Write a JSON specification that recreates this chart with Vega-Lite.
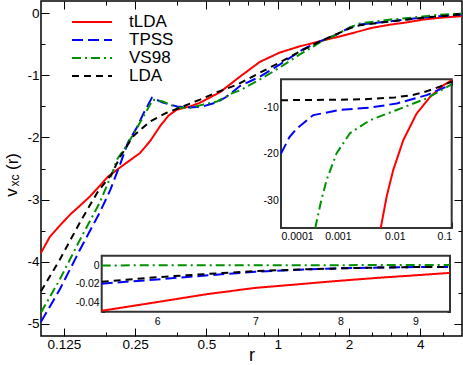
{
  "$schema": "https://vega.github.io/schema/vega-lite/v6.json",
  "width": 421,
  "height": 335,
  "autosize": {"type": "none"},
  "padding": {"left": 41, "top": 1, "right": 1, "bottom": 29},
  "config": {
    "view": {"stroke": "black", "strokeWidth": 1.5},
    "font": "Liberation Sans",
    "axis": {"domain": false, "grid": false, "zindex": 1, "tickColor": "black", "labelColor": "black", "titleColor": "black", "labelFont": "Liberation Sans", "titleFont": "Liberation Sans", "titleFontWeight": "normal", "tickWidth": 1}
  },
  "datasets": {
    "main": [
      {"m": "tLDA", "r": 0.1, "v": -3.86}, {"m": "tLDA", "r": 0.109, "v": -3.6}, {"m": "tLDA", "r": 0.12, "v": -3.42}, {"m": "tLDA", "r": 0.133, "v": -3.24}, {"m": "tLDA", "r": 0.146, "v": -3.1}, {"m": "tLDA", "r": 0.161, "v": -2.95}, {"m": "tLDA", "r": 0.175, "v": -2.8}, {"m": "tLDA", "r": 0.192, "v": -2.63}, {"m": "tLDA", "r": 0.22, "v": -2.46}, {"m": "tLDA", "r": 0.262, "v": -2.25}, {"m": "tLDA", "r": 0.29, "v": -2.05}, {"m": "tLDA", "r": 0.318, "v": -1.82}, {"m": "tLDA", "r": 0.345, "v": -1.65}, {"m": "tLDA", "r": 0.375, "v": -1.55}, {"m": "tLDA", "r": 0.426, "v": -1.5}, {"m": "tLDA", "r": 0.469, "v": -1.44}, {"m": "tLDA", "r": 0.57, "v": -1.27}, {"m": "tLDA", "r": 0.692, "v": -1.02}, {"m": "tLDA", "r": 0.841, "v": -0.78}, {"m": "tLDA", "r": 1.021, "v": -0.63}, {"m": "tLDA", "r": 1.24, "v": -0.53}, {"m": "tLDA", "r": 1.506, "v": -0.45}, {"m": "tLDA", "r": 1.83, "v": -0.37}, {"m": "tLDA", "r": 2.2, "v": -0.29}, {"m": "tLDA", "r": 2.52, "v": -0.23}, {"m": "tLDA", "r": 3.0, "v": -0.18}, {"m": "tLDA", "r": 3.5, "v": -0.145}, {"m": "tLDA", "r": 4.1, "v": -0.1}, {"m": "tLDA", "r": 4.84, "v": -0.07}, {"m": "tLDA", "r": 6.0, "v": -0.045},
      {"m": "TPSS", "r": 0.1, "v": -4.97}, {"m": "TPSS", "r": 0.12, "v": -4.45}, {"m": "TPSS", "r": 0.146, "v": -3.81}, {"m": "TPSS", "r": 0.177, "v": -3.21}, {"m": "TPSS", "r": 0.196, "v": -2.85}, {"m": "TPSS", "r": 0.216, "v": -2.43}, {"m": "TPSS", "r": 0.233, "v": -2.08}, {"m": "TPSS", "r": 0.254, "v": -1.84}, {"m": "TPSS", "r": 0.272, "v": -1.6}, {"m": "TPSS", "r": 0.294, "v": -1.36}, {"m": "TPSS", "r": 0.327, "v": -1.435}, {"m": "TPSS", "r": 0.375, "v": -1.5}, {"m": "TPSS", "r": 0.426, "v": -1.516}, {"m": "TPSS", "r": 0.483, "v": -1.5}, {"m": "TPSS", "r": 0.554, "v": -1.43}, {"m": "TPSS", "r": 0.61, "v": -1.34}, {"m": "TPSS", "r": 0.692, "v": -1.17}, {"m": "TPSS", "r": 0.841, "v": -1.02}, {"m": "TPSS", "r": 1.021, "v": -0.823}, {"m": "TPSS", "r": 1.277, "v": -0.58}, {"m": "TPSS", "r": 1.506, "v": -0.452}, {"m": "TPSS", "r": 1.777, "v": -0.339}, {"m": "TPSS", "r": 2.017, "v": -0.226}, {"m": "TPSS", "r": 2.222, "v": -0.177}, {"m": "TPSS", "r": 2.975, "v": -0.129}, {"m": "TPSS", "r": 4.101, "v": -0.065}, {"m": "TPSS", "r": 6.0, "v": -0.018},
      {"m": "VS98", "r": 0.1, "v": -4.82}, {"m": "VS98", "r": 0.12, "v": -4.29}, {"m": "VS98", "r": 0.146, "v": -3.65}, {"m": "VS98", "r": 0.177, "v": -3.05}, {"m": "VS98", "r": 0.201, "v": -2.55}, {"m": "VS98", "r": 0.209, "v": -2.36}, {"m": "VS98", "r": 0.231, "v": -2.12}, {"m": "VS98", "r": 0.262, "v": -1.76}, {"m": "VS98", "r": 0.297, "v": -1.39}, {"m": "VS98", "r": 0.327, "v": -1.42}, {"m": "VS98", "r": 0.375, "v": -1.52}, {"m": "VS98", "r": 0.426, "v": -1.52}, {"m": "VS98", "r": 0.483, "v": -1.47}, {"m": "VS98", "r": 0.554, "v": -1.42}, {"m": "VS98", "r": 0.647, "v": -1.28}, {"m": "VS98", "r": 0.692, "v": -1.24}, {"m": "VS98", "r": 0.841, "v": -1.065}, {"m": "VS98", "r": 1.021, "v": -0.871}, {"m": "VS98", "r": 1.24, "v": -0.661}, {"m": "VS98", "r": 1.506, "v": -0.468}, {"m": "VS98", "r": 1.777, "v": -0.339}, {"m": "VS98", "r": 2.017, "v": -0.226}, {"m": "VS98", "r": 2.222, "v": -0.161}, {"m": "VS98", "r": 3.0, "v": -0.1}, {"m": "VS98", "r": 4.1, "v": -0.05}, {"m": "VS98", "r": 4.837, "v": -0.02}, {"m": "VS98", "r": 6.0, "v": -0.001},
      {"m": "LDA", "r": 0.1, "v": -4.48}, {"m": "LDA", "r": 0.12, "v": -3.97}, {"m": "LDA", "r": 0.146, "v": -3.37}, {"m": "LDA", "r": 0.174, "v": -2.87}, {"m": "LDA", "r": 0.198, "v": -2.6}, {"m": "LDA", "r": 0.216, "v": -2.31}, {"m": "LDA", "r": 0.245, "v": -1.98}, {"m": "LDA", "r": 0.289, "v": -1.74}, {"m": "LDA", "r": 0.34, "v": -1.6}, {"m": "LDA", "r": 0.398, "v": -1.5}, {"m": "LDA", "r": 0.469, "v": -1.39}, {"m": "LDA", "r": 0.554, "v": -1.27}, {"m": "LDA", "r": 0.672, "v": -1.15}, {"m": "LDA", "r": 0.841, "v": -0.955}, {"m": "LDA", "r": 1.021, "v": -0.79}, {"m": "LDA", "r": 1.24, "v": -0.613}, {"m": "LDA", "r": 1.506, "v": -0.452}, {"m": "LDA", "r": 2.017, "v": -0.24}, {"m": "LDA", "r": 2.222, "v": -0.19}, {"m": "LDA", "r": 3.0, "v": -0.13}, {"m": "LDA", "r": 4.1, "v": -0.07}, {"m": "LDA", "r": 6.0, "v": -0.016}
    ],
    "ins1": [
      {"m": "tLDA", "r": 0.00566, "v": -36}, {"m": "tLDA", "r": 0.0072, "v": -29.2}, {"m": "tLDA", "r": 0.0094, "v": -23.5}, {"m": "tLDA", "r": 0.0141, "v": -17.1}, {"m": "tLDA", "r": 0.0241, "v": -11.4}, {"m": "tLDA", "r": 0.0417, "v": -7.8}, {"m": "tLDA", "r": 0.0708, "v": -5.3}, {"m": "tLDA", "r": 0.1, "v": -4.2},
      {"m": "TPSS", "r": 0.0001, "v": -20}, {"m": "TPSS", "r": 0.00014, "v": -16.5}, {"m": "TPSS", "r": 0.000189, "v": -14.6}, {"m": "TPSS", "r": 0.00037, "v": -11.7}, {"m": "TPSS", "r": 0.00109, "v": -10.6}, {"m": "TPSS", "r": 0.00366, "v": -10.1}, {"m": "TPSS", "r": 0.0108, "v": -9.2}, {"m": "TPSS", "r": 0.0364, "v": -7.4}, {"m": "TPSS", "r": 0.1, "v": -5.1},
      {"m": "VS98", "r": 0.0004, "v": -36}, {"m": "VS98", "r": 0.0005, "v": -30.5}, {"m": "VS98", "r": 0.000636, "v": -25.6}, {"m": "VS98", "r": 0.00095, "v": -19.9}, {"m": "VS98", "r": 0.00163, "v": -15.6}, {"m": "VS98", "r": 0.00366, "v": -12.8}, {"m": "VS98", "r": 0.0108, "v": -10.6}, {"m": "VS98", "r": 0.0364, "v": -8.1}, {"m": "VS98", "r": 0.1, "v": -5.1},
      {"m": "LDA", "r": 0.0001, "v": -8.5}, {"m": "LDA", "r": 0.001, "v": -8.4}, {"m": "LDA", "r": 0.003, "v": -8.3}, {"m": "LDA", "r": 0.01, "v": -7.9}, {"m": "LDA", "r": 0.02, "v": -7.4}, {"m": "LDA", "r": 0.03, "v": -6.9}, {"m": "LDA", "r": 0.05, "v": -6.0}, {"m": "LDA", "r": 0.07, "v": -5.3}, {"m": "LDA", "r": 0.1, "v": -4.5}
    ],
    "ins2": [
      {"m": "tLDA", "r": 5.5, "v": -0.049}, {"m": "tLDA", "r": 6, "v": -0.0397}, {"m": "tLDA", "r": 6.5, "v": -0.031}, {"m": "tLDA", "r": 7, "v": -0.0245}, {"m": "tLDA", "r": 7.5, "v": -0.0205}, {"m": "tLDA", "r": 8, "v": -0.0168}, {"m": "tLDA", "r": 8.5, "v": -0.0136}, {"m": "tLDA", "r": 9, "v": -0.011}, {"m": "tLDA", "r": 9.5, "v": -0.0084},
      {"m": "TPSS", "r": 5.5, "v": -0.02}, {"m": "TPSS", "r": 6, "v": -0.0154}, {"m": "TPSS", "r": 6.5, "v": -0.011}, {"m": "TPSS", "r": 7, "v": -0.0072}, {"m": "TPSS", "r": 7.5, "v": -0.005}, {"m": "TPSS", "r": 8, "v": -0.0035}, {"m": "TPSS", "r": 8.5, "v": -0.0027}, {"m": "TPSS", "r": 9, "v": -0.0022}, {"m": "TPSS", "r": 9.5, "v": -0.002},
      {"m": "VS98", "r": 5.5, "v": -0.0004}, {"m": "VS98", "r": 7, "v": -0.0002}, {"m": "VS98", "r": 9.5, "v": 0},
      {"m": "LDA", "r": 5.5, "v": -0.018}, {"m": "LDA", "r": 6, "v": -0.013}, {"m": "LDA", "r": 6.5, "v": -0.0095}, {"m": "LDA", "r": 7, "v": -0.0065}, {"m": "LDA", "r": 7.5, "v": -0.0048}, {"m": "LDA", "r": 8, "v": -0.0035}, {"m": "LDA", "r": 8.5, "v": -0.0027}, {"m": "LDA", "r": 9, "v": -0.0022}, {"m": "LDA", "r": 9.5, "v": -0.002}
    ]
  },
  "layer": [
    {
      "data": {"name": "main"},
      "mark": {"type": "line", "strokeWidth": 2},
      "encoding": {
        "x": {"field": "r", "type": "quantitative", "scale": {"type": "log", "base": 2, "domain": [0.1, 6], "nice": false},
          "axis": {"orient": "bottom", "values": [0.125, 0.1875, 0.25, 0.375, 0.5, 0.625, 0.75, 0.875, 1, 1.25, 1.5, 1.75, 2, 2.5, 3, 3.5, 4, 5],
            "labelExpr": "indexof([0.125,0.25,0.5,1,2,4], datum.value) >= 0 ? '' + datum.value : ''",
            "tickSize": {"condition": {"test": "indexof([0.125,0.25,0.5,1,2,4], datum.value) >= 0", "value": -8}, "value": -4},
            "labelPadding": 9.5, "labelFontSize": 13.5, "title": "r", "titleFontSize": 18, "titlePadding": -5}},
        "y": {"field": "v", "type": "quantitative", "scale": {"domain": [-5.2, 0.2], "nice": false, "zero": false},
          "axis": {"orient": "left", "values": [-5, -4.5, -4, -3.5, -3, -2.5, -2, -1.5, -1, -0.5, 0],
            "labelExpr": "datum.value % 1 == 0 ? '' + datum.value : ''",
            "tickSize": {"condition": {"test": "datum.value % 1 == 0", "value": -8}, "value": -4},
            "labelPadding": 10, "labelFontSize": 13.5, "title": "v", "titleFontSize": 17, "titleX": -30, "titleY": 191, "titleAngle": 270, "titleAlign": "center", "titleBaseline": "middle"}},
        "color": {"field": "m", "type": "nominal", "scale": {"domain": ["tLDA", "TPSS", "VS98", "LDA"], "range": ["#ff0000", "#0000ff", "#009000", "#000000"]},
          "legend": {"orient": "none", "legendX": 30, "legendY": 12, "title": null, "symbolType": "stroke", "symbolSize": 1600, "symbolStrokeWidth": 2, "labelFontSize": 17, "labelFont": "Liberation Sans", "labelColor": "black", "labelOffset": 16, "clipHeight": 18, "rowPadding": 0, "padding": 0}},
        "strokeDash": {"field": "m", "type": "nominal", "scale": {"domain": ["tLDA", "TPSS", "VS98", "LDA"], "range": [[1, 0], [11, 5], [9, 4, 2, 4], [7, 5]]}}
      }
    },
    {
      "data": {"name": "main"},
      "mark": {"type": "point", "opacity": 0},
      "encoding": {
        "x": {"field": "r", "type": "quantitative", "scale": {"type": "log", "base": 2, "domain": [0.1, 6], "nice": false},
          "axis": {"orient": "top", "values": [0.125, 0.1875, 0.25, 0.375, 0.5, 0.625, 0.75, 0.875, 1, 1.25, 1.5, 1.75, 2, 2.5, 3, 3.5, 4, 5], "labels": false, "title": null,
            "tickSize": {"condition": {"test": "indexof([0.125,0.25,0.5,1,2,4], datum.value) >= 0", "value": -8}, "value": -4}}},
        "y": {"field": "v", "type": "quantitative", "scale": {"domain": [-5.2, 0.2], "nice": false, "zero": false},
          "axis": {"orient": "right", "values": [-5, -4.5, -4, -3.5, -3, -2.5, -2, -1.5, -1, -0.5, 0], "labels": false,
            "tickSize": {"condition": {"test": "datum.value % 1 == 0", "value": -8}, "value": -4},
            "title": "xc", "titleFontSize": 12, "titleX": -448, "titleY": 179, "titleAngle": 270, "titleAlign": "center", "titleBaseline": "middle"}}
      }
    },
    {
      "layer": [
        {
          "data": {"values": [{}]},
          "mark": {"type": "rect", "fill": "white", "stroke": "#333333", "strokeWidth": 2},
          "encoding": {"x": {"datum": 0.0001}, "x2": {"datum": 0.1}, "y": {"datum": -36}, "y2": {"datum": -4}}
        },
        {
          "data": {"name": "ins1"},
          "mark": {"type": "line", "strokeWidth": 2},
          "encoding": {
            "x": {"field": "r", "type": "quantitative"},
            "y": {"field": "v", "type": "quantitative"},
            "color": {"field": "m", "type": "nominal"},
            "strokeDash": {"field": "m", "type": "nominal"}
          }
        }
      ],
      "encoding": {
        "x": {"type": "quantitative", "scale": {"type": "log", "domain": [0.0001, 0.1], "range": [240, 410.7], "nice": false},
          "axis": {"orient": "bottom", "offset": -108, "values": [0.0001, 0.0002, 0.0003, 0.0004, 0.0005, 0.0006, 0.0007, 0.0008, 0.0009, 0.001, 0.002, 0.003, 0.004, 0.005, 0.006, 0.007, 0.008, 0.009, 0.01, 0.02, 0.03, 0.04, 0.05, 0.06, 0.07, 0.08, 0.09, 0.1],
            "labelExpr": "indexof([0.0001,0.001,0.01,0.1], datum.value) >= 0 ? '' + datum.value : ''",
            "tickSize": {"condition": {"test": "indexof([0.0001,0.001,0.01,0.1], datum.value) >= 0", "value": -6}, "value": -3},
            "labelPadding": 9, "labelFontSize": 10.5, "title": null}},
        "y": {"type": "quantitative", "scale": {"domain": [-36, -4], "range": [227, 78.3], "nice": false, "zero": false},
          "axis": {"orient": "left", "offset": -240, "values": [-35, -30, -25, -20, -15, -10, -5],
            "labelExpr": "datum.value % 10 == 0 ? '' + datum.value : ''",
            "tickSize": {"condition": {"test": "datum.value % 10 == 0", "value": -6}, "value": -3},
            "labelPadding": 8.7, "labelFontSize": 10.5, "title": null}}
      }
    },
    {
      "data": {"values": [{}]},
      "mark": {"type": "point", "opacity": 0},
      "encoding": {
        "x": {"datum": 0.001, "type": "quantitative", "scale": {"type": "log", "domain": [0.0001, 0.1], "range": [240, 410.7], "nice": false},
          "axis": {"orient": "top", "offset": -78.3, "values": [0.0001, 0.0002, 0.0003, 0.0004, 0.0005, 0.0006, 0.0007, 0.0008, 0.0009, 0.001, 0.002, 0.003, 0.004, 0.005, 0.006, 0.007, 0.008, 0.009, 0.01, 0.02, 0.03, 0.04, 0.05, 0.06, 0.07, 0.08, 0.09, 0.1], "labels": false, "title": null,
            "tickSize": {"condition": {"test": "indexof([0.0001,0.001,0.01,0.1], datum.value) >= 0", "value": -6}, "value": -3}}},
        "y": {"datum": -10, "type": "quantitative", "scale": {"domain": [-36, -4], "range": [227, 78.3], "nice": false, "zero": false},
          "axis": {"orient": "right", "offset": -10.3, "values": [-35, -30, -25, -20, -15, -10, -5], "labels": false,
            "tickSize": {"condition": {"test": "datum.value % 10 == 0", "value": -6}, "value": -3},
            "title": "(r)", "titleFontSize": 17, "titleX": -439, "titleY": 160, "titleAngle": 270, "titleAlign": "center", "titleBaseline": "middle"}}
      }
    },
    {
      "layer": [
        {
          "data": {"values": [{}]},
          "mark": {"type": "rect", "fill": "white", "stroke": "#333333", "strokeWidth": 2},
          "encoding": {"x": {"datum": 5.5}, "x2": {"datum": 9.5}, "y": {"datum": -0.05}, "y2": {"datum": 0.01}}
        },
        {
          "data": {"name": "ins2"},
          "mark": {"type": "line", "strokeWidth": 2},
          "encoding": {
            "x": {"field": "r", "type": "quantitative"},
            "y": {"field": "v", "type": "quantitative"},
            "color": {"field": "m", "type": "nominal"},
            "strokeDash": {"field": "m", "type": "nominal"}
          }
        }
      ],
      "encoding": {
        "x": {"type": "quantitative", "scale": {"type": "log", "domain": [5.5, 9.5], "range": [60.7, 409], "nice": false},
          "axis": {"orient": "bottom", "offset": -24.3, "values": [6, 6.5, 7, 7.5, 8, 8.5, 9, 9.5],
            "labelExpr": "datum.value % 1 == 0 ? '' + datum.value : ''",
            "tickSize": {"condition": {"test": "datum.value % 1 == 0", "value": -6}, "value": -3},
            "labelPadding": 11, "labelFontSize": 10.5, "title": null}},
        "y": {"type": "quantitative", "scale": {"domain": [-0.05, 0.01], "range": [310.7, 254.7], "nice": false, "zero": false},
          "axis": {"orient": "left", "offset": -60.7, "values": [-0.05, -0.04, -0.03, -0.02, -0.01, 0, 0.01],
            "labelExpr": "indexof([0,-0.02,-0.04], datum.value) >= 0 ? '' + datum.value : ''",
            "tickSize": {"condition": {"test": "indexof([0,-0.02,-0.04], datum.value) >= 0", "value": -6}, "value": -3},
            "labelPadding": 8.5, "labelFontSize": 10.5, "title": null}}
      }
    },
    {
      "data": {"values": [{}]},
      "mark": {"type": "point", "opacity": 0},
      "encoding": {
        "x": {"datum": 7, "type": "quantitative", "scale": {"type": "log", "domain": [5.5, 9.5], "range": [60.7, 409], "nice": false},
          "axis": {"orient": "top", "offset": -254.7, "values": [6, 6.5, 7, 7.5, 8, 8.5, 9, 9.5], "labels": false, "title": null,
            "tickSize": {"condition": {"test": "datum.value % 1 == 0", "value": -6}, "value": -3}}},
        "y": {"datum": -0.02, "type": "quantitative", "scale": {"domain": [-0.05, 0.01], "range": [310.7, 254.7], "nice": false, "zero": false},
          "axis": {"orient": "right", "offset": -12, "values": [-0.05, -0.04, -0.03, -0.02, -0.01, 0, 0.01], "labels": false, "title": null,
            "tickSize": {"condition": {"test": "indexof([0,-0.02,-0.04], datum.value) >= 0", "value": -6}, "value": -3}}}
      }
    }
  ],
  "resolve": {"scale": {"x": "independent", "y": "independent"}, "axis": {"x": "independent", "y": "independent"}}
}
